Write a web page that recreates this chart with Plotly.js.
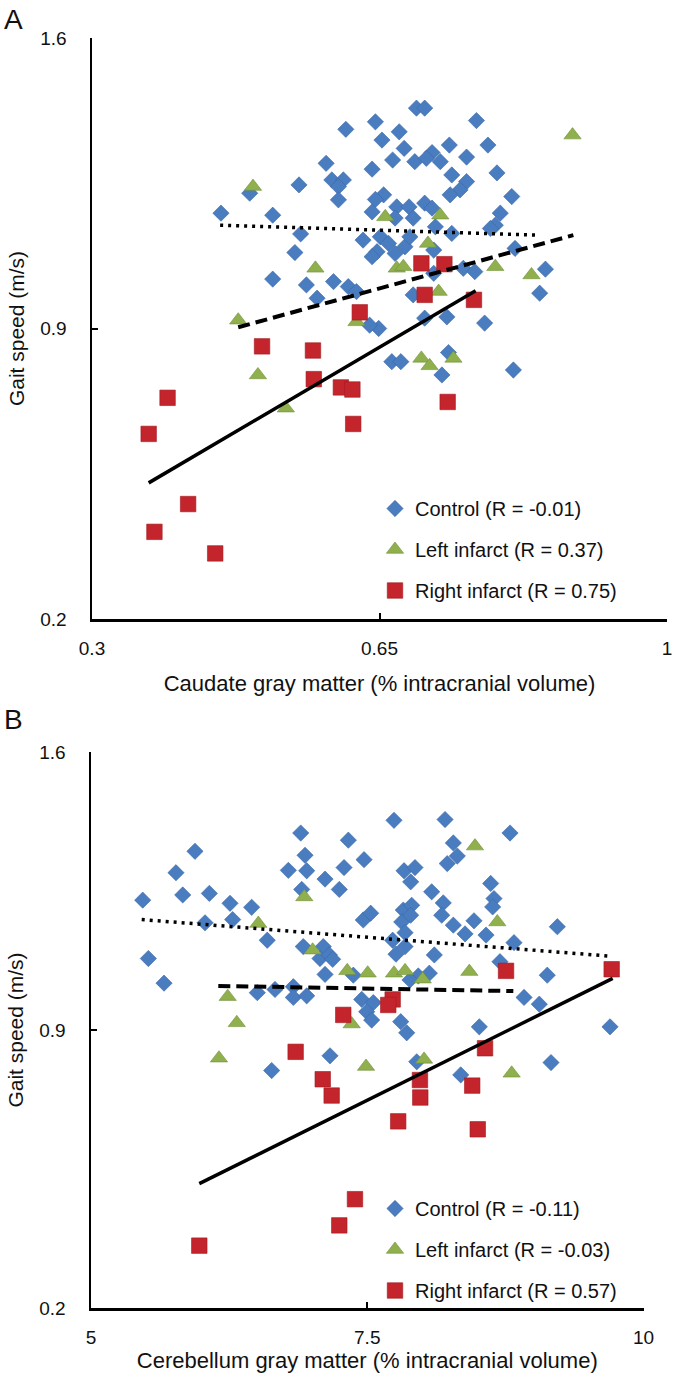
<!DOCTYPE html>
<html><head><meta charset="utf-8">
<script src="https://cdn.plot.ly/plotly-3.0.1.min.js"></script>
<style>html,body{margin:0;padding:0;background:#fff}#chart{width:677px;height:1382px}</style>
</head><body><div id="chart"></div>
<script>
// ---------- Panel A: Caudate ----------
const ctrlA_x = [0.609,0.585,0.592,0.606,0.600,0.552,0.600,0.492,0.457,0.520,0.554,0.630,0.547,0.520,0.561,0.594,0.612,0.622,0.574,
 0.695,0.705,0.645,0.768,0.674,0.653,0.782,0.680,0.735,0.714,0.666,0.693,0.707,0.724,0.756,0.641,0.738,0.793,0.756,0.748,0.736,0.811,
 0.655,0.645,0.671,0.686,0.705,0.714,0.641,0.797,0.669,0.691,0.791,0.785,0.718,0.738,0.651,0.661,0.681,0.687,0.647,0.669,0.716,0.815,
 0.641,0.852,0.752,0.766,0.716,0.845,0.691,0.705,0.732,0.778,0.649,0.638,0.665,0.676,0.734,0.726,0.813];
const ctrlA_y = [1.380,1.298,1.258,1.258,1.242,1.246,1.210,1.226,1.178,1.173,1.128,1.113,1.083,1.019,1.005,1.013,1.001,0.989,0.973,
 1.431,1.431,1.398,1.401,1.374,1.354,1.342,1.334,1.342,1.324,1.306,1.302,1.310,1.302,1.313,1.284,1.270,1.275,1.254,1.234,1.222,1.218,
 1.222,1.211,1.193,1.193,1.202,1.190,1.181,1.178,1.166,1.166,1.149,1.141,1.145,1.129,1.121,1.105,1.097,1.121,1.085,1.081,1.089,1.093,
 1.073,1.043,1.045,1.037,1.033,0.985,0.981,0.925,0.928,0.913,0.900,0.908,0.820,0.820,0.842,0.788,0.800];
const leftA_x = [0.496,0.478,0.502,0.572,0.622,0.657,0.536,0.885,0.724,0.709,0.671,0.679,0.791,0.835,0.722,0.701,0.711,0.740];
const leftA_y = [1.242,0.920,0.788,1.045,0.916,1.169,0.708,1.366,1.173,1.105,1.045,1.049,1.049,1.029,0.989,0.828,0.810,0.828];
const rightA_x = [0.369,0.392,0.376,0.417,0.450,0.507,0.569,0.570,0.603,0.617,0.618,0.626,0.701,0.729,0.705,0.765,0.733];
const rightA_y = [0.646,0.733,0.410,0.477,0.358,0.857,0.847,0.778,0.758,0.753,0.670,0.939,1.057,1.055,0.981,0.969,0.723];
// fitted trend lines (endpoints)
const ctrlA_fit_x = [0.456, 0.843], ctrlA_fit_y = [1.149, 1.125];
const leftA_fit_x = [0.478, 0.886], leftA_fit_y = [0.903, 1.125];
const rightA_fit_x = [0.369, 0.767], rightA_fit_y = [0.528, 0.991];

// ---------- Panel B: Cerebellum ----------
const ctrlB_x = [6.898,7.329,5.941,6.937,7.471,6.786,6.952,7.290,5.769,7.118,7.247,6.907,5.830,6.071,5.468,6.258,6.454,6.032,6.282,7.464,
 7.531,6.595,6.921,7.102,7.072,7.157,7.187,5.519,5.661,7.118,7.374,6.505,6.665,6.831,6.831,6.952,7.450,7.555,7.495,7.540,7.163,6.635,
 7.742,8.204,8.792,8.279,8.315,8.224,7.833,7.932,7.893,8.617,8.083,8.647,8.635,8.188,7.826,7.902,8.174,7.812,7.893,8.279,8.466,9.220,
 7.842,7.730,8.385,8.575,8.828,7.760,7.842,8.107,8.701,9.129,8.062,7.962,7.887,8.919,9.057,7.803,7.857,8.514,9.697,7.948,9.163,8.346];
const ctrlB_y = [1.396,1.378,1.350,1.340,1.329,1.302,1.301,1.309,1.296,1.280,1.254,1.254,1.240,1.244,1.227,1.219,1.209,1.170,1.178,1.177,
 1.194,1.126,1.110,1.110,1.080,1.089,1.078,1.080,1.018,1.040,1.038,0.994,1.002,1.009,0.982,0.986,0.977,0.969,0.946,0.925,0.835,0.798,
 1.428,1.430,1.396,1.371,1.338,1.319,1.301,1.309,1.273,1.269,1.248,1.231,1.210,1.220,1.202,1.214,1.189,1.172,1.189,1.164,1.175,1.160,
 1.145,1.126,1.142,1.139,1.120,1.091,1.110,1.089,1.072,1.038,1.043,1.036,1.026,0.982,0.965,0.921,0.893,0.908,0.908,0.820,0.818,0.787];
const leftB_x = [6.930,6.514,7.006,7.319,7.504,6.237,6.319,7.359,6.158,7.489,8.475,8.677,7.742,7.842,8.002,8.424,8.014,8.807];
const leftB_y = [1.235,1.168,1.101,1.049,1.043,0.984,0.918,0.915,0.829,0.808,1.363,1.172,1.043,1.049,1.028,1.047,0.826,0.791];
const rightB_x = [7.283,6.852,7.097,7.178,7.389,7.247,5.980,8.756,9.712,7.730,7.690,8.566,7.977,7.98,7.78,8.45,8.50];
const rightB_y = [0.938,0.845,0.776,0.735,0.474,0.408,0.357,1.049,1.053,0.977,0.963,0.854,0.774,0.73,0.67,0.76,0.65];
const ctrlB_fit_x = [5.459, 9.691], ctrlB_fit_y = [1.178, 1.086];
const leftB_fit_x = [6.152, 8.822], leftB_fit_y = [1.011, 0.998];
const rightB_fit_x = [5.980, 9.721], rightB_fit_y = [0.513, 1.030];

// ---------- Labels ----------
const groupNames = ['Control', 'Left infarct', 'Right infarct'];
const rA = ['-0.01', '0.37', '0.75'];
const rB = ['-0.11', '-0.03', '0.57'];
const tickA_x = [0.3, 0.65, 1], tickA_xtext = ['0.3', '0.65', '1'];
const tickB_x = [5, 7.5, 10], tickB_xtext = ['5', '7.5', '10'];
const tick_y = [0.2, 0.9, 1.6], tick_ytext = ['0.2', '0.9', '1.6'];
const titleA_x = 'Caudate gray matter (% intracranial volume)';
const titleB_x = 'Cerebellum gray matter (% intracranial volume)';
const title_y = 'Gait speed (m/s)';

// ---------- styles ----------
const FONT = 'Liberation Sans, Arial, sans-serif';
const markerStyles = [
  { symbol: 'diamond', size: 12.5, color: '#4a7cc0', line: { color: '#3a68a6', width: 0.6 } },
  { symbol: 'triangle-up', size: 15, color: '#8fb04c', line: { color: '#71913a', width: 0.6 } },
  { symbol: 'square', size: 15.5, color: '#c4242b', line: { color: '#a01c22', width: 0.6 } }
];
const lineStyles = [
  { color: '#000', width: 3.5, dash: '3px,5px' },
  { color: '#000', width: 4, dash: '12px,6px' },
  { color: '#000', width: 3.5, dash: 'solid' }
];

const traces = [];
const panels = [
  { xs: [ctrlA_x, leftA_x, rightA_x], ys: [ctrlA_y, leftA_y, rightA_y],
    fx: [ctrlA_fit_x, leftA_fit_x, rightA_fit_x], fy: [ctrlA_fit_y, leftA_fit_y, rightA_fit_y],
    r: rA, xa: 'x', ya: 'y', lg: 'legend' },
  { xs: [ctrlB_x, leftB_x, rightB_x], ys: [ctrlB_y, leftB_y, rightB_y],
    fx: [ctrlB_fit_x, leftB_fit_x, rightB_fit_x], fy: [ctrlB_fit_y, leftB_fit_y, rightB_fit_y],
    r: rB, xa: 'x2', ya: 'y2', lg: 'legend2' }
];
panels.forEach((p, pi) => {
  for (let g = 0; g < 3; g++) {
    traces.push({
      type: 'scatter', mode: 'markers', x: p.xs[g], y: p.ys[g], xaxis: p.xa, yaxis: p.ya,
      name: groupNames[g] + ' (R = ' + p.r[g] + ')', legend: p.lg, legendgroup: 'g' + pi + g,
      marker: markerStyles[g], cliponaxis: false
    });
  }
  for (let g = 0; g < 3; g++) {
    traces.push({
      type: 'scatter', mode: 'lines', x: p.fx[g], y: p.fy[g], xaxis: p.xa, yaxis: p.ya,
      showlegend: false, line: lineStyles[g], hoverinfo: 'skip'
    });
  }
});

const W = 677, H = 1382;
function px(x) { return x / W; }
function py(y) { return 1 - y / H; }

const axisBase = {
  showgrid: false, zeroline: false, showline: true, linecolor: '#000', linewidth: 2.5,
  ticks: 'inside', ticklen: 6, tickwidth: 2, tickcolor: '#000',
  tickfont: { family: FONT, size: 19, color: '#111' }, automargin: false, fixedrange: true
};
const xTitleFont = { family: FONT, size: 22, color: '#111' };
const yTitleFont = { family: FONT, size: 21, color: '#111' };
const legendFont = { family: FONT, size: 20, color: '#111' };

const layout = {
  width: W, height: H, margin: { l: 0, r: 0, t: 0, b: 0 },
  paper_bgcolor: '#fff', plot_bgcolor: '#fff', font: { family: FONT, color: '#111' },
  xaxis: Object.assign({}, axisBase, {
    domain: [px(92), px(667)], anchor: 'y', range: [0.3, 1], tickmode: 'array', tickvals: tickA_x, ticktext: tickA_xtext,
    ticklabelstandoff: 11,
    title: { text: titleA_x, font: xTitleFont, standoff: 18 }
  }),
  yaxis: Object.assign({}, axisBase, {
    domain: [py(619), py(38)], anchor: 'x', range: [0.2, 1.6], tickmode: 'array', tickvals: tick_y, ticktext: tick_ytext,
    ticklabelstandoff: 19,
    title: { text: title_y, font: yTitleFont, standoff: 10 }
  }),
  xaxis2: Object.assign({}, axisBase, {
    domain: [px(91), px(643.5)], anchor: 'y2', range: [5, 10], tickmode: 'array', tickvals: tickB_x, ticktext: tickB_xtext,
    ticklabelstandoff: 11,
    title: { text: titleB_x, font: xTitleFont, standoff: 6 }
  }),
  yaxis2: Object.assign({}, axisBase, {
    domain: [py(1308), py(752)], anchor: 'x2', range: [0.2, 1.6], tickmode: 'array', tickvals: tick_y, ticktext: tick_ytext,
    ticklabelstandoff: 19,
    title: { text: title_y, font: yTitleFont, standoff: 10 }
  }),
  legend: {
    x: px(375), y: py(489), xanchor: 'left', yanchor: 'top', traceorder: 'grouped', tracegroupgap: 12,
    bgcolor: 'rgba(0,0,0,0)', borderwidth: 0, font: legendFont
  },
  legend2: {
    x: px(375), y: py(1189), xanchor: 'left', yanchor: 'top', traceorder: 'grouped', tracegroupgap: 12,
    bgcolor: 'rgba(0,0,0,0)', borderwidth: 0, font: legendFont
  },
  annotations: [
    { text: 'A', xref: 'paper', yref: 'paper', x: px(2), y: py(2), xanchor: 'left', yanchor: 'top', showarrow: false,
      font: { family: FONT, size: 28, color: '#111' } },
    { text: 'B', xref: 'paper', yref: 'paper', x: px(2), y: py(702), xanchor: 'left', yanchor: 'top', showarrow: false,
      font: { family: FONT, size: 28, color: '#111' } }
  ],
  showlegend: true
};

Plotly.newPlot('chart', traces, layout, { displayModeBar: false, staticPlot: true });
</script>
</body></html>
